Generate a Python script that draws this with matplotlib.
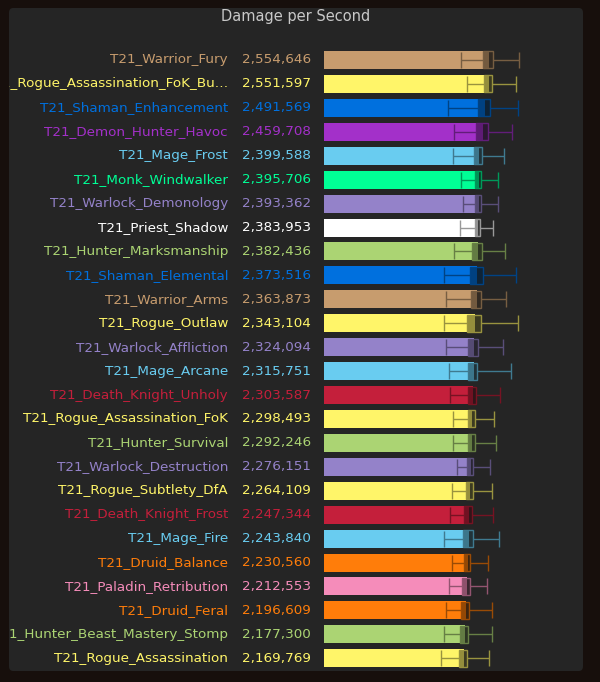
import matplotlib
matplotlib.use("Agg")
import matplotlib.pyplot as plt
from matplotlib.patches import FancyBboxPatch
from matplotlib.colors import to_rgb
from matplotlib.transforms import Bbox, TransformedBbox
import numpy as np

title = "Damage per Second"
names = ["T21_Warrior_Fury", "T21_Rogue_Assassination_FoK_Bu…", "T21_Shaman_Enhancement",
         "T21_Demon_Hunter_Havoc", "T21_Mage_Frost", "T21_Monk_Windwalker",
         "T21_Warlock_Demonology", "T21_Priest_Shadow", "T21_Hunter_Marksmanship",
         "T21_Shaman_Elemental", "T21_Warrior_Arms", "T21_Rogue_Outlaw",
         "T21_Warlock_Affliction", "T21_Mage_Arcane", "T21_Death_Knight_Unholy",
         "T21_Rogue_Assassination_FoK", "T21_Hunter_Survival", "T21_Warlock_Destruction",
         "T21_Rogue_Subtlety_DfA", "T21_Death_Knight_Frost", "T21_Mage_Fire",
         "T21_Druid_Balance", "T21_Paladin_Retribution", "T21_Druid_Feral",
         "T21_Hunter_Beast_Mastery_Stomp", "T21_Rogue_Assassination"]
dps = [2554646, 2551597, 2491569, 2459708, 2399588, 2395706, 2393362, 2383953,
       2382436, 2373516, 2363873, 2343104, 2324094, 2315751, 2303587, 2298493,
       2292246, 2276151, 2264109, 2247344, 2243840, 2230560, 2212553, 2196609,
       2177300, 2169769]
low = [2.126, 2.219, 1.924, 2.017, 2.002, 2.126, 2.157, 2.110, 2.017, 1.863,
       1.894, 1.863, 1.894, 1.940, 1.955, 2.002, 2.002, 2.064, 1.986, 1.955,
       1.863, 1.986, 1.940, 1.894, 1.863, 1.816]
q1 = [2.466, 2.482, 2.389, 2.358, 2.327, 2.343, 2.343, 2.343, 2.296, 2.265,
      2.281, 2.219, 2.234, 2.234, 2.234, 2.234, 2.234, 2.219, 2.203, 2.172,
      2.157, 2.172, 2.141, 2.126, 2.110, 2.095]
q3 = [2.621, 2.606, 2.575, 2.544, 2.451, 2.435, 2.435, 2.420, 2.451, 2.466,
      2.435, 2.435, 2.389, 2.373, 2.358, 2.343, 2.343, 2.312, 2.312, 2.296,
      2.312, 2.265, 2.265, 2.250, 2.234, 2.219]
high = [3.014, 2.977, 3.008, 2.915, 2.791, 2.699, 2.699, 2.621, 2.807, 2.977,
        2.822, 3.008, 2.776, 2.900, 2.730, 2.637, 2.668, 2.575, 2.606, 2.621,
        2.714, 2.544, 2.528, 2.606, 2.606, 2.559]
colors = ["#C79C6E", "#FFF569", "#0070DE", "#A330C9", "#69CCF0", "#00FF96",
          "#9482C9", "#FFFFFF", "#ABD473", "#0070DE", "#C79C6E", "#FFF569",
          "#9482C9", "#69CCF0", "#C41F3B", "#FFF569", "#ABD473", "#9482C9",
          "#FFF569", "#C41F3B", "#69CCF0", "#FF7D0A", "#F58CBA", "#FF7D0A",
          "#ABD473", "#FFF569"]

W, H = 600, 682
fig = plt.figure(figsize=(W / 100, H / 100), dpi=100, facecolor="#170f0c")
panel = FancyBboxPatch((9 / W, (H - 671) / H), (583 - 9) / W, (671 - 8) / H,
                       boxstyle="round,pad=0,rounding_size=0.007",
                       transform=fig.transFigure, facecolor="#252525",
                       edgecolor="none", zorder=0)
fig.patches.append(panel)
clipbox = TransformedBbox(Bbox([[9 / W, (H - 671) / H], [583 / W, (H - 8) / H]]),
                          fig.transFigure)

fig.text(296 / W, 1 - 16 / H, title, ha="center", va="center",
         color="#c8c8c8", fontsize=10.5, family="DejaVu Sans", zorder=5)

n = len(names)
pxM = 64.59  # px per million
xmax = 3.9e6
row = 23.93
top = 60 - row / 2
ax = fig.add_axes([324 / W, (H - (top + n * row)) / H, xmax / 1e6 * pxM / W, n * row / H])
ax.set_zorder(3)
ax.set_xlim(0, xmax)
ax.set_ylim(n - 0.5, -0.5)
ax.axis("off")
ax.patch.set_alpha(0)

y = np.arange(n)
bh = 18 / row
low_v = np.array(low) * 1e6
q1_v = np.array(q1) * 1e6
q3_v = np.array(q3) * 1e6
high_v = np.array(high) * 1e6
dark = [tuple(np.array(to_rgb(c)) * 0.6) for c in colors]
boxface = [tuple(np.array(to_rgb(c)) * 0.3) + (0.6,) for c in colors]

ax.barh(y, dps, height=bh, color=colors, zorder=2)
ax.barh(y, q3_v - q1_v, left=q1_v, height=bh - 1 / row, facecolor=boxface,
        edgecolor=dark, linewidth=1.0, zorder=3)
ax.hlines(y, low_v, q1_v, colors=dark, linewidth=1.0, zorder=4)
ax.hlines(y, q3_v, high_v, colors=dark, linewidth=1.0, zorder=4)
cap = 8 / row
ax.vlines(low_v, y - cap, y + cap, colors=dark, linewidth=1.0, zorder=4)
ax.vlines(high_v, y - cap, y + cap, colors=dark, linewidth=1.0, zorder=4)

for i in range(n):
    t1 = ax.annotate(names[i], xy=(0, i), xycoords=("axes fraction", "data"),
                     xytext=(-96 * 0.72, 0), textcoords="offset points",
                     ha="right", va="center", color=colors[i], fontsize=9.7,
                     family="DejaVu Sans", annotation_clip=False)
    t1.set_clip_on(True)
    t1.set_clip_box(clipbox)
    ax.annotate(f"{dps[i]:,}", xy=(0, i), xycoords=("axes fraction", "data"),
                xytext=(-13 * 0.72, 0), textcoords="offset points",
                ha="right", va="center", color=colors[i], fontsize=9.7,
                family="DejaVu Sans", annotation_clip=False)

fig.savefig("out.png", dpi=100, facecolor=fig.get_facecolor())
